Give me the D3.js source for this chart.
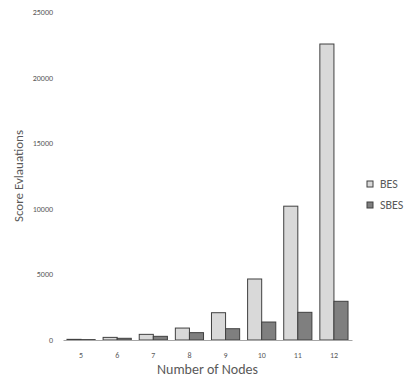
<!DOCTYPE html>
<html>
<head>
<meta charset="utf-8">
<script src="https://cdn.jsdelivr.net/npm/d3@7"></script>
<style>
  body { margin: 0; background: #fff; }
  text { font-family: Calibri, Carlito, "Liberation Sans", "Open Sans", sans-serif; }
</style>
</head>
<body>
<div id="chart"></div>
<script>
var nodes = ["5", "6", "7", "8", "9", "10", "11", "12"];
var bes = [50, 200, 430, 910, 2080, 4650, 10200, 22560];
var sbes = [30, 130, 280, 560, 860, 1370, 2110, 2950];
var seriesNames = ["BES", "SBES"];
var yTicks = [0, 5000, 10000, 15000, 20000, 25000];

var width = 416, height = 388;
var margin = { top: 12, right: 64, bottom: 48, left: 63 };
var w = width - margin.left - margin.right;
var h = height - margin.top - margin.bottom;

var svg = d3.select("#chart")
    .append("svg")
    .attr("width", width)
    .attr("height", height)
    .append("g")
    .attr("transform", "translate(" + margin.left + "," + margin.top + ")");

var data = nodes.map(function (n, i) {
    return { node: n, values: [bes[i], sbes[i]] };
});

var x = d3.scaleBand()
    .domain(nodes)
    .range([0, w])
    .paddingInner(0.22)
    .paddingOuter(0.11);

var x1 = d3.scaleBand()
    .domain(seriesNames)
    .range([0, x.bandwidth()]);

var y = d3.scaleLinear()
    .domain([0, 25000])
    .range([h, 0]);

var color = d3.scaleOrdinal()
    .domain(seriesNames)
    .range(["#d9d9d9", "#7f7f7f"]);

// y axis labels only, no line
var yAxis = svg.append("g")
    .call(d3.axisLeft(y).tickValues(yTicks).tickFormat(d3.format("d")).tickSize(0).tickPadding(10));
yAxis.select(".domain").remove();
yAxis.selectAll("text")
    .attr("fill", "#595959")
    .style("font-size", "8px");

// bars
var groups = svg.selectAll(".grp")
    .data(data)
    .enter()
    .append("g")
    .attr("class", "grp")
    .attr("transform", function (d) { return "translate(" + x(d.node) + ",0)"; });

groups.selectAll("rect")
    .data(function (d) {
        return seriesNames.map(function (s, j) { return { key: s, value: d.values[j] }; });
    })
    .enter()
    .append("rect")
    .attr("x", function (d) { return x1(d.key); })
    .attr("y", function (d) { return y(d.value); })
    .attr("width", x1.bandwidth())
    .attr("height", function (d) { return h - y(d.value); })
    .attr("fill", function (d) { return color(d.key); })
    .attr("stroke", "#404040")
    .attr("stroke-width", 1);

// x axis
var xAxis = svg.append("g")
    .attr("transform", "translate(0," + h + ")")
    .call(d3.axisBottom(x).tickSize(0).tickPadding(12));
xAxis.select(".domain").attr("stroke", "#a6a6a6");
xAxis.selectAll("text")
    .attr("fill", "#595959")
    .style("font-size", "8px");

// axis titles
svg.append("text")
    .attr("x", w / 2)
    .attr("y", h + 34)
    .attr("text-anchor", "middle")
    .attr("fill", "#595959")
    .style("font-size", "14px")
    .text("Number of Nodes");

svg.append("text")
    .attr("transform", "rotate(-90)")
    .attr("x", -164)
    .attr("y", -40)
    .attr("text-anchor", "middle")
    .attr("fill", "#595959")
    .style("font-size", "13px")
    .text("Score Evlauations");

// legend
var legend = svg.selectAll(".legend")
    .data(seriesNames)
    .enter()
    .append("g")
    .attr("class", "legend")
    .attr("transform", function (d, i) { return "translate(" + (w + 15) + "," + (172 + i * 21) + ")"; });

legend.append("rect")
    .attr("x", 0)
    .attr("y", -3)
    .attr("width", 6)
    .attr("height", 6)
    .attr("fill", function (d) { return color(d); })
    .attr("stroke", "#404040");

legend.append("text")
    .attr("x", 13)
    .attr("y", 0)
    .attr("dy", "0.35em")
    .attr("fill", "#595959")
    .style("font-size", "12px")
    .text(function (d) { return d; });
</script>
</body>
</html>
